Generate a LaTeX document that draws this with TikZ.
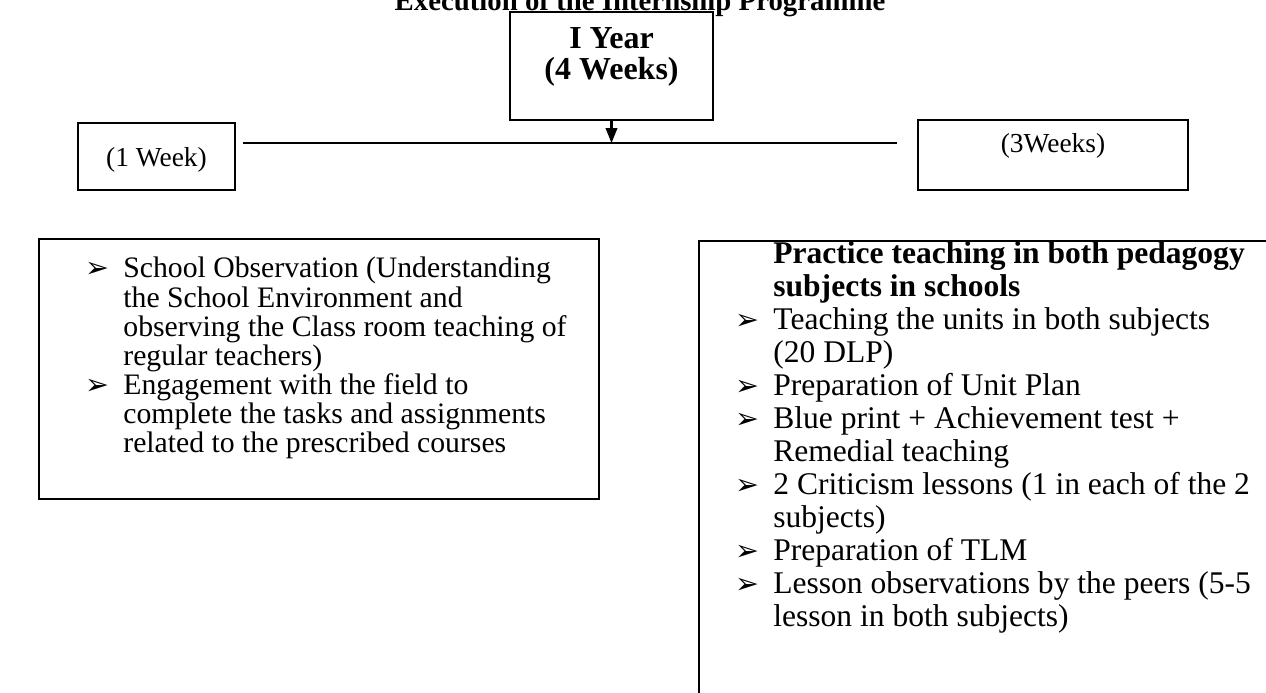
\documentclass[tikz,border=0pt]{standalone}
\usepackage{fontspec}
\setmainfont{Liberation Serif}
\newfontfamily\dingfont{DejaVu Sans}
\usepackage{array}
\usetikzlibrary{arrows.meta, positioning, calc}
\newcommand{\leftfont}{\fontsize{13pt}{12.3pt}\selectfont}
\newcommand{\rightfont}{\fontsize{13.8pt}{14.4pt}\selectfont}
\newcommand{\arrbullet}{{\dingfont\fontsize{12.5pt}{12pt}\selectfont ➢}}

\begin{document}
\begin{tikzpicture}[x=0.4375pt, y=-0.4375pt,
	box/.style={draw, line width=0.7pt, inner sep=0pt},
	weekbox/.style={box, font=\fontsize{12pt}{14pt}\selectfont, text height=8.4pt},
	link/.style={line width=0.9pt}]
	\useasboundingbox (0,0) rectangle (1266,693);
	\clip (0,0) rectangle (1266,693);
	\node[font=\fontsize{12.6pt}{14pt}\selectfont\bfseries, anchor=base] at (640, 11) (title) {Execution of the Internship Programme};
	\node[box, fill=white, font=\fontsize{14pt}{13.2pt}\selectfont\bfseries, minimum width=88.8pt, minimum height=47.25pt, text height=10pt, text depth=25.2pt] at (611.5, 66) (year) {\begin{tabular}[t]{@{}c@{}}I Year\\(4 Weeks)\end{tabular}};
	\node[weekbox, minimum width=68.7pt, minimum height=29.3pt, text depth=0pt] at (156.5, 156.5) (week1) {(1 Week)};
	\node[weekbox, minimum width=118.1pt, minimum height=30.6pt, text height=8.3pt, text depth=10.1pt] at (1053, 155) (week3) {(3Weeks)};
	\coordinate (joinL) at (243, 143);
	\coordinate (joinR) at (897, 143);
	\draw[link] (joinL) -- (joinR);
	\draw[link, -{Triangle[length=6.5pt, width=5pt]}] (year.south) -- (year.south |- joinL);
	% first week: observation
	\node[box, anchor=north west, minimum width=245pt, minimum height=113.75pt] at (38, 238) (fieldbox) {};
	\node[anchor=base west, inner sep=0pt, font=\leftfont] at (85, 278) (fieldtext) {%
		\begin{tabular}[t]{@{}p{16.6pt}@{}l@{}}
			\arrbullet & School Observation (Understanding\\
			& the School Environment and\\
			& observing the Class room teaching of\\
			& regular teachers)\\
			\arrbullet & Engagement with the field to\\
			& complete the tasks and assignments\\
			& related to the prescribed courses
		\end{tabular}};
	% three weeks: practice teaching
	\node[box, anchor=north west, minimum width=260pt, minimum height=210pt] at (698, 240) (practicebox) {};
	\node[anchor=base west, inner sep=0pt, font=\rightfont] at (735, 264) (practicetext) {%
		\begin{tabular}[t]{@{}p{16.6pt}@{}l@{}}
			& \textbf{Practice teaching in both pedagogy}\\
			& \textbf{subjects in schools}\\
			\arrbullet & Teaching the units in both subjects\\
			& (20 DLP)\\
			\arrbullet & Preparation of Unit Plan\\
			\arrbullet & Blue print + Achievement test +\\
			& Remedial teaching\\
			\arrbullet & 2 Criticism lessons (1 in each of the 2\\
			& subjects)\\
			\arrbullet & Preparation of TLM\\
			\arrbullet & Lesson observations by the peers (5-5\\
			& lesson in both subjects)
		\end{tabular}};
\end{tikzpicture}
\end{document}
